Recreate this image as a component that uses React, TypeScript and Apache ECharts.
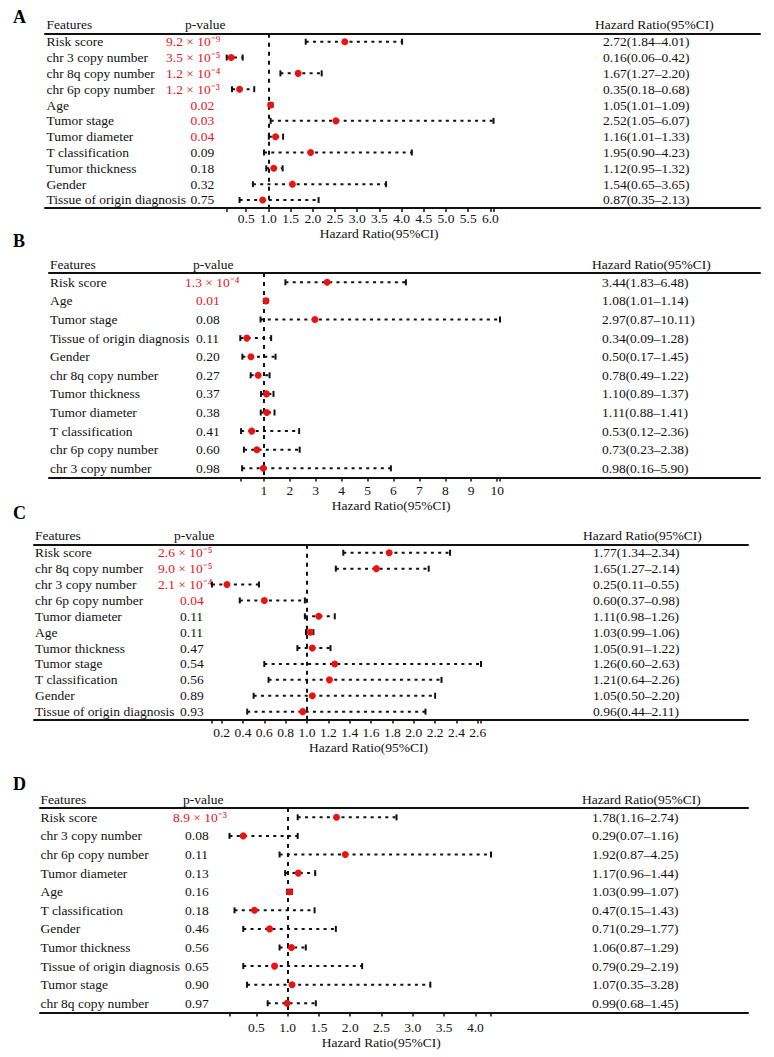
import React, { useEffect, useRef, useState } from "react";
import * as echarts from "echarts";

const FONT = '"Liberation Serif", "Times New Roman", Times, serif';
const INK = "#111111";
const RED = "#e8141c";
const DOT = "#ee1111";
const FS = 13.5;

// ---------- Panel A ----------
const featuresA = ["Risk score", "chr 3 copy number", "chr 8q copy number", "chr 6p copy number", "Age", "Tumor stage", "Tumor diameter", "T classification", "Tumor thickness", "Gender", "Tissue of origin diagnosis"];
const pValuesA = ["9.2 × 10⁻⁹", "3.5 × 10⁻⁵", "1.2 × 10⁻⁴", "1.2 × 10⁻³", "0.02", "0.03", "0.04", "0.09", "0.18", "0.32", "0.75"];
const hrA = [2.72, 0.16, 1.67, 0.35, 1.05, 2.52, 1.16, 1.95, 1.12, 1.54, 0.87];
const lowerA = [1.84, 0.06, 1.27, 0.18, 1.01, 1.05, 1.01, 0.90, 0.95, 0.65, 0.35];
const upperA = [4.01, 0.42, 2.20, 0.68, 1.09, 6.07, 1.33, 4.23, 1.32, 3.65, 2.13];
const ticksA = ["0.5", "1.0", "1.5", "2.0", "2.5", "3.0", "3.5", "4.0", "4.5", "5.0", "5.5", "6.0"];

// ---------- Panel B ----------
const featuresB = ["Risk score", "Age", "Tumor stage", "Tissue of origin diagnosis", "Gender", "chr 8q copy number", "Tumor thickness", "Tumor diameter", "T classification", "chr 6p copy number", "chr 3 copy number"];
const pValuesB = ["1.3 × 10⁻⁴", "0.01", "0.08", "0.11", "0.20", "0.27", "0.37", "0.38", "0.41", "0.60", "0.98"];
const hrB = [3.44, 1.08, 2.97, 0.34, 0.50, 0.78, 1.10, 1.11, 0.53, 0.73, 0.98];
const lowerB = [1.83, 1.01, 0.87, 0.09, 0.17, 0.49, 0.89, 0.88, 0.12, 0.23, 0.16];
const upperB = [6.48, 1.14, 10.11, 1.28, 1.45, 1.22, 1.37, 1.41, 2.36, 2.38, 5.90];
const ticksB = ["1", "2", "3", "4", "5", "6", "7", "8", "9", "10"];

// ---------- Panel C ----------
const featuresC = ["Risk score", "chr 8q copy number", "chr 3 copy number", "chr 6p copy number", "Tumor diameter", "Age", "Tumor thickness", "Tumor stage", "T classification", "Gender", "Tissue of origin diagnosis"];
const pValuesC = ["2.6 × 10⁻⁵", "9.0 × 10⁻⁵", "2.1 × 10⁻⁴", "0.04", "0.11", "0.11", "0.47", "0.54", "0.56", "0.89", "0.93"];
const hrC = [1.77, 1.65, 0.25, 0.60, 1.11, 1.03, 1.05, 1.26, 1.21, 1.05, 0.96];
const lowerC = [1.34, 1.27, 0.11, 0.37, 0.98, 0.99, 0.91, 0.60, 0.64, 0.50, 0.44];
const upperC = [2.34, 2.14, 0.55, 0.98, 1.26, 1.06, 1.22, 2.63, 2.26, 2.20, 2.11];
const ticksC = ["0.2", "0.4", "0.6", "0.8", "1.0", "1.2", "1.4", "1.6", "1.8", "2.0", "2.2", "2.4", "2.6"];

// ---------- Panel D ----------
const featuresD = ["Risk score", "chr 3 copy number", "chr 6p copy number", "Tumor diameter", "Age", "T classification", "Gender", "Tumor thickness", "Tissue of origin diagnosis", "Tumor stage", "chr 8q copy number"];
const pValuesD = ["8.9 × 10⁻³", "0.08", "0.11", "0.13", "0.16", "0.18", "0.46", "0.56", "0.65", "0.90", "0.97"];
const hrD = [1.78, 0.29, 1.92, 1.17, 1.03, 0.47, 0.71, 1.06, 0.79, 1.07, 0.99];
const lowerD = [1.16, 0.07, 0.87, 0.96, 0.99, 0.15, 0.29, 0.87, 0.29, 0.35, 0.68];
const upperD = [2.74, 1.16, 4.25, 1.44, 1.07, 1.43, 1.77, 1.29, 2.19, 3.28, 1.45];
const ticksD = ["0.5", "1.0", "1.5", "2.0", "2.5", "3.0", "3.5", "4.0"];

const AXIS_TITLE = "Hazard Ratio(95%CI)";
const HEAD_FEATURES = "Features";
const HEAD_P = "p-value";
const HEAD_HR = "Hazard Ratio(95%CI)";

// layout (pixels) per panel
const layouts = [
  { letterY: 17, left: 45, right: 760, top: 33.8, height: 174.1, plotLeft: 226.7, plotRight: 493.5, featX: 46.5, pExpX: 166, pPlainX: 190.5, pHeadX: 185, hrX: 603, hrHeadX: 595, labelMargin: 3.5, nameGap: 18.5, nameShift: 19 },
  { letterY: 241, left: 49, right: 760, top: 273, height: 204.6, plotLeft: 240.3, plotRight: 500, featX: 50, pExpX: 185, pPlainX: 196, pHeadX: 193, hrX: 602, hrHeadX: 592, labelMargin: 6, nameGap: 19, nameShift: 21 },
  { letterY: 513, left: 34, right: 748, top: 544.8, height: 174.8, plotLeft: 212, plotRight: 481, featX: 35, pExpX: 158, pPlainX: 180, pHeadX: 174, hrX: 593, hrHeadX: 583, labelMargin: 5.5, nameGap: 19, nameShift: 22 },
  { letterY: 784, left: 40, right: 748, top: 808, height: 204.6, plotLeft: 229.5, plotRight: 491, featX: 40.5, pExpX: 173, pPlainX: 185, pHeadX: 183, hrX: 592, hrHeadX: 582, labelMargin: 8, nameGap: 19, nameShift: 21 },
];

const panels = [
  { letter: "A", features: featuresA, pValues: pValuesA, hr: hrA, lower: lowerA, upper: upperA, ticks: ticksA },
  { letter: "B", features: featuresB, pValues: pValuesB, hr: hrB, lower: lowerB, upper: upperB, ticks: ticksB },
  { letter: "C", features: featuresC, pValues: pValuesC, hr: hrC, lower: lowerC, upper: upperC, ticks: ticksC },
  { letter: "D", features: featuresD, pValues: pValuesD, hr: hrD, lower: lowerD, upper: upperD, ticks: ticksD },
];

function isSig(p: string) {
  return p.indexOf("×") >= 0 || parseFloat(p) < 0.05;
}

function renderCI(params: any, api: any) {
  const row = api.value(2);
  const a = api.coord([api.value(0), row]);
  const b = api.coord([api.value(1), row]);
  const cap = 3;
  const capStyle = { stroke: INK, lineWidth: 2 };
  return {
    type: "group",
    children: [
      { type: "line", shape: { x1: a[0], y1: a[1], x2: b[0], y2: b[1] }, style: { stroke: INK, lineWidth: 2, lineDash: [3, 4.3] } },
      { type: "line", shape: { x1: a[0], y1: a[1] - cap, x2: a[0], y2: a[1] + cap }, style: capStyle },
      { type: "line", shape: { x1: b[0], y1: b[1] - cap, x2: b[0], y2: b[1] + cap }, style: capStyle },
    ],
  };
}

function buildOption() {
  const grid: any[] = [];
  const xAxis: any[] = [];
  const yAxis: any[] = [];
  const series: any[] = [];
  const graphic: any[] = [];
  const txt = { fontFamily: FONT, fontSize: FS, color: INK };

  panels.forEach((p, k) => {
    const L = layouts[k];
    const fi = 2 * k;
    const pi = 2 * k + 1;
    grid.push({ left: L.left, top: L.top, width: L.right - L.left, height: L.height });
    grid.push({ left: L.plotLeft, top: L.top, width: L.plotRight - L.plotLeft, height: L.height });

    const rule = { show: true, onZero: false, lineStyle: { color: INK, width: 2 } };
    const frameX = { gridIndex: fi, type: "value", min: 0, max: 1, axisLine: rule, axisTick: { show: false }, axisLabel: { show: false }, splitLine: { show: false } };
    xAxis.push({ ...frameX, position: "bottom" });
    xAxis.push({ ...frameX, position: "top" });

    const lo = Math.min(...p.lower);
    const hi = Math.max(...p.upper);
    const tickVals = p.ticks.map((t) => parseFloat(t));
    const step = tickVals[1] - tickVals[0];
    xAxis.push({
      gridIndex: pi,
      type: "value",
      min: lo,
      max: hi,
      minInterval: step,
      maxInterval: step,
      splitNumber: p.ticks.length,
      axisLine: { show: false, onZero: false },
      axisTick: { show: true, length: 4, lineStyle: { color: INK, width: 1.5 } },
      splitLine: { show: false },
      axisLabel: {
        ...txt,
        margin: L.labelMargin,
        formatter: (v: number) => {
          const i = tickVals.findIndex((t) => Math.abs(t - v) < 1e-6);
          return i >= 0 ? p.ticks[i] : "";
        },
      },
      name: AXIS_TITLE,
      nameLocation: "middle",
      nameGap: L.nameGap,
      nameTextStyle: { ...txt, padding: [0, 0, 0, 2 * L.nameShift] },
    });

    const rowAxis = {
      type: "category",
      data: p.features,
      inverse: true,
      axisLine: { show: false },
      axisTick: { show: false },
      splitLine: { show: false },
    };
    yAxis.push({ ...rowAxis, gridIndex: fi, position: "left", axisLabel: { ...txt, inside: true, interval: 0, margin: L.featX - L.left } });
    const pad = L.pPlainX - L.pExpX;
    yAxis.push({
      ...rowAxis,
      gridIndex: fi,
      position: "left",
      offset: -(L.pExpX - L.left),
      axisLabel: {
        ...txt,
        inside: true,
        interval: 0,
        margin: 0,
        formatter: (_v: string, i: number) => {
          const s = p.pValues[i];
          if (s.indexOf("×") >= 0) return `{e|${s}}`;
          return isSig(s) ? `{s|${s}}` : `{n|${s}}`;
        },
        rich: {
          e: { fontFamily: FONT, fontSize: FS, color: RED },
          s: { fontFamily: FONT, fontSize: FS, color: RED, padding: [0, 0, 0, pad] },
          n: { fontFamily: FONT, fontSize: FS, color: INK, padding: [0, 0, 0, pad] },
        },
      },
    });
    yAxis.push({
      ...rowAxis,
      gridIndex: fi,
      position: "right",
      axisLabel: {
        ...txt,
        inside: true,
        interval: 0,
        align: "left",
        margin: L.right - L.hrX,
        formatter: (_v: string, i: number) => `${p.hr[i].toFixed(2)}(${p.lower[i].toFixed(2)}–${p.upper[i].toFixed(2)})`,
      },
    });
    yAxis.push({ ...rowAxis, gridIndex: pi, axisLabel: { show: false } });

    const xi = 3 * k + 2;
    const yi = 4 * k + 3;
    series.push({
      type: "custom",
      xAxisIndex: xi,
      yAxisIndex: yi,
      data: p.lower.map((l, i) => [l, p.upper[i], i]),
      encode: { x: [0, 1], y: 2 },
      renderItem: renderCI,
      z: 2,
      silent: true,
    });
    series.push({
      type: "scatter",
      xAxisIndex: xi,
      yAxisIndex: yi,
      data: p.hr.map((h, i) => [h, i]),
      symbol: "circle",
      symbolSize: 7,
      itemStyle: { color: DOT, opacity: 1 },
      z: 4,
      silent: true,
      markLine: {
        silent: true,
        z: 1,
        symbol: ["none", "none"],
        label: { show: false },
        lineStyle: { color: INK, type: [4, 5], width: 2, opacity: 1 },
        data: [{ xAxis: 1 }],
      },
    });

    const head = (text: string, x: number, y: number, extra: any = {}) => ({
      type: "text",
      x,
      y,
      style: { text, fill: INK, fontFamily: FONT, fontSize: FS, verticalAlign: "middle", textVerticalAlign: "middle", ...extra },
    });
    graphic.push(head(p.letter, 13, L.letterY, { fontSize: 18, fontWeight: "bold", fill: "#000" }));
    graphic.push(head(HEAD_FEATURES, L.featX, L.top - 9));
    graphic.push(head(HEAD_P, L.pHeadX, L.top - 9));
    graphic.push(head(HEAD_HR, L.hrHeadX, L.top - 9));
  });

  return {
    animation: false,
    backgroundColor: "#ffffff",
    textStyle: { fontFamily: FONT },
    grid,
    xAxis,
    yAxis,
    series,
    graphic,
  };
}

export default function App() {
  const ref = useRef<HTMLDivElement>(null);
  const [err, setErr] = useState("");
  useEffect(() => {
    if (!ref.current) return;
    const chart = echarts.init(ref.current, null, { renderer: "svg" });
    try {
      chart.setOption(buildOption() as any);
    } catch (e: any) {
      setErr(String(e && e.stack ? e.stack : e));
    }
    return () => chart.dispose();
  }, []);
  return (
    <div>
      <div
        ref={ref}
        style={{ position: "absolute", left: 0, top: 0, width: 774, height: 1057, background: "#fff" }}
      />
      {err ? (
        <pre style={{ position: "absolute", left: 0, top: 0, fontSize: 11, whiteSpace: "pre-wrap", width: 770 }}>{err}</pre>
      ) : null}
    </div>
  );
}
